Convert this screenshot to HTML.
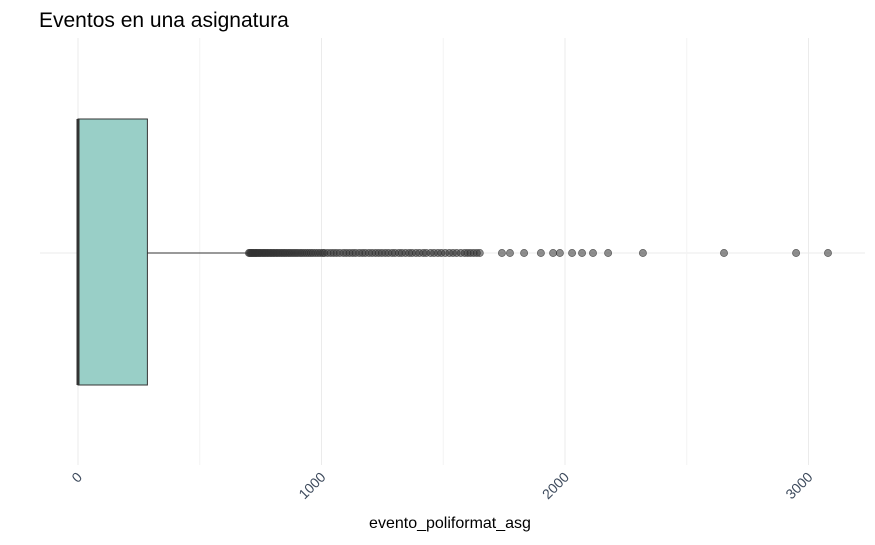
<!DOCTYPE html>
<html><head><meta charset="utf-8"><style>
body{margin:0;background:#fff;font-family:"Liberation Sans",sans-serif}
</style></head><body>
<svg id="c" width="875" height="540">
<text x="39" y="27" font-size="21" fill="#000">Eventos en una asignatura</text>
<text x="450" y="528" font-size="16" text-anchor="middle" fill="#000">evento_poliformat_asg</text>
<g id="grid"></g><g id="marks"></g><g id="ticks"></g>
</svg>
<script>
const ticks=[0,1000,2000,3000];
const minorTicks=[500,1500,2500];
const q1=0, median=0, q3=285, whiskerLow=0, whiskerHigh=700;
const outliers=[702,706,710,714,718,722,727,731,735,740,745,750,756,761,767,772,778,784,790,796,802,808,815,821,828,835,842,849,856,864,871,879,887,895,903,912,920,929,938,947,956,965,975,985,995,1005,1012,1025,1038,1050,1062,1075,1090,1102,1115,1128,1140,1155,1168,1180,1195,1208,1222,1235,1248,1262,1275,1290,1302,1318,1330,1345,1360,1372,1388,1402,1418,1430,1448,1462,1478,1492,1508,1525,1540,1555,1572,1588,1600,1612,1625,1638,1650,1741,1774,1832,1901,1951,1979,2029,2070,2115,2177,2320,2653,2949,3080];
const x=v=>78+v*0.2435;
const NS="http://www.w3.org/2000/svg";
function mk(p,t,a){const e=document.createElementNS(NS,t);for(const k in a)e.setAttribute(k,a[k]);p.appendChild(e);return e;}
const g=document.getElementById('grid'),m=document.getElementById('marks'),tk=document.getElementById('ticks');
mk(g,'line',{x1:40,x2:865,y1:253,y2:253,stroke:'#ebebeb','stroke-width':1});
minorTicks.forEach(v=>{const l=mk(g,'line',{x1:x(v),x2:x(v),y1:38,y2:465,stroke:'#f3f3f3','stroke-width':1});

});
ticks.forEach(v=>{const l=mk(g,'line',{x1:x(v),x2:x(v),y1:38,y2:465,stroke:'#ebebeb','stroke-width':1});


const t=mk(tk,'text',{x:x(v)+5,y:478,'font-size':14,fill:'#3d4a5c','text-anchor':'end',transform:`rotate(-45 ${x(v)+5} 478)`});
t.textContent=v;

});
const w=mk(m,'line',{x1:x(q3),x2:x(whiskerHigh),y1:253,y2:253,stroke:'#333','stroke-width':1});


const b=mk(m,'rect',{x:x(q1),y:119,width:x(q3)-x(q1),height:266,fill:'#99cfc7',stroke:'#333','stroke-width':1});


const md=mk(m,'line',{x1:x(median),x2:x(median),y1:119,y2:385,stroke:'#333','stroke-width':3});


outliers.forEach(v=>{const c=mk(m,'circle',{cx:x(v),cy:253,r:3.6,fill:'#333','fill-opacity':0.55,stroke:'#333','stroke-opacity':0.7,'stroke-width':0.7});

});
</script>
</body></html>
